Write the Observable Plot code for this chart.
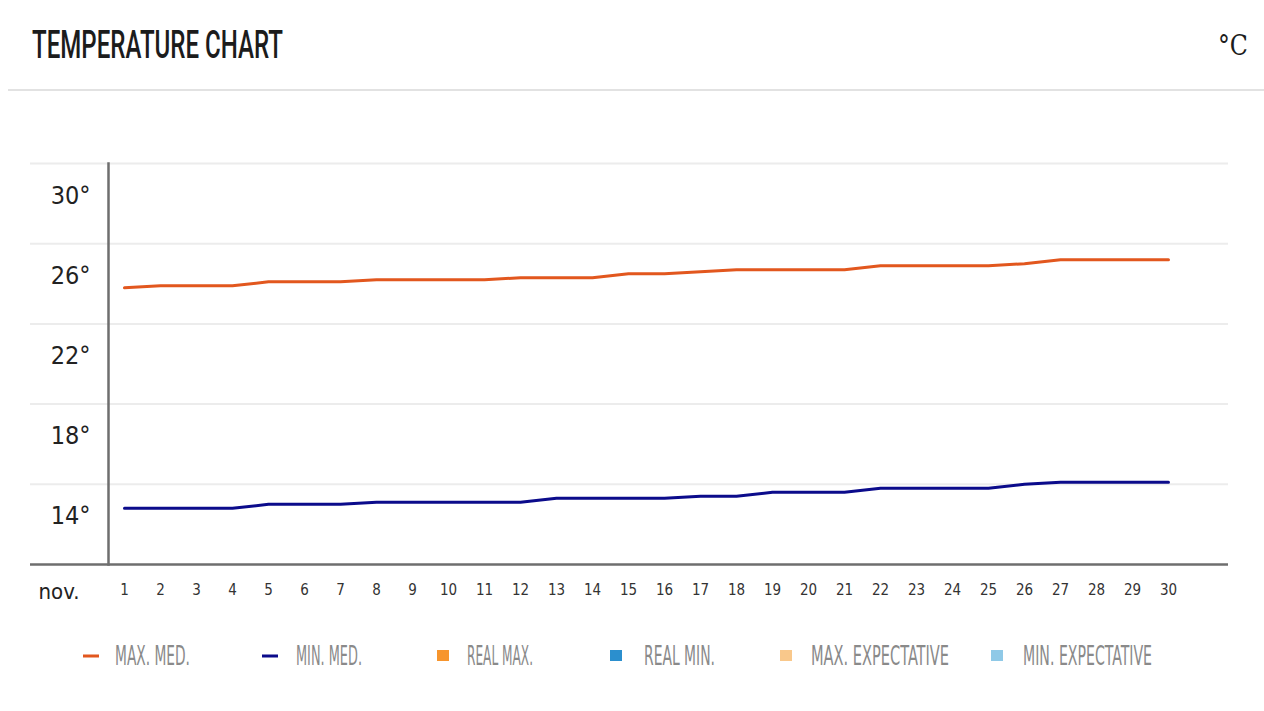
<!DOCTYPE html>
<html>
<head>
<meta charset="utf-8">
<script src="https://cdn.jsdelivr.net/npm/d3@7"></script>
<script src="https://cdn.jsdelivr.net/npm/@observablehq/plot@0.6"></script>
<style>
  html, body { margin: 0; padding: 0; background: #fff; }
  body { width: 1264px; height: 711px; overflow: hidden; position: relative; }
  #header { position: absolute; left: 0; top: 0; }
  #chart { position: absolute; left: 0; top: 100px; }
  #legend { position: absolute; left: 0; top: 630px; }
</style>
</head>
<body>
<svg id="header" width="1264" height="100"></svg>
<div id="chart"></div>
<svg id="legend" width="1264" height="50"></svg>
<script>
// ---- data ----
const days = [1,2,3,4,5,6,7,8,9,10,11,12,13,14,15,16,17,18,19,20,21,22,23,24,25,26,27,28,29,30];
const maxMed = [25.8,25.9,25.9,25.9,26.1,26.1,26.1,26.2,26.2,26.2,26.2,26.3,26.3,26.3,26.5,26.5,26.6,26.7,26.7,26.7,26.7,26.9,26.9,26.9,26.9,27.0,27.2,27.2,27.2,27.2];
const minMed = [14.8,14.8,14.8,14.8,15.0,15.0,15.0,15.1,15.1,15.1,15.1,15.1,15.3,15.3,15.3,15.3,15.4,15.4,15.6,15.6,15.6,15.8,15.8,15.8,15.8,16.0,16.1,16.1,16.1,16.1];
const yTicks = [14, 18, 22, 26, 30];
const gridLines = [16, 20, 24, 28, 32];
const monthLabel = "nov.";
const titleText = "TEMPERATURE CHART";
const unitText = "°C";
const legendLabels = ["MAX. MED.", "MIN. MED.", "REAL MAX.", "REAL MIN.", "MAX. EXPECTATIVE", "MIN. EXPECTATIVE"];
const legendKinds = ["line", "line", "square", "square", "square", "square"];
const legendColors = ["#e2571e", "#0b0b8b", "#f7952d", "#2b8fce", "#f9c88b", "#8fc9e7"];

const condensed = "'Liberation Sans Narrow', 'DejaVu Sans Condensed', 'Roboto', sans-serif";

// ---- header ----
const header = d3.select("#header");
header.append("text")
  .attr("x", 32).attr("y", 58)
  .attr("textLength", 251).attr("lengthAdjust", "spacingAndGlyphs")
  .style("font-family", "'Roboto', 'Liberation Sans', sans-serif")
  .style("font-weight", "500").style("font-size", "39px").style("fill", "#1c1c1c")
  .text(titleText);
header.append("text")
  .attr("x", 1218).attr("y", 55)
  .attr("textLength", 30).attr("lengthAdjust", "spacingAndGlyphs")
  .style("font-family", "'DejaVu Serif', serif")
  .style("font-size", "27px").style("fill", "#1c1c1c")
  .text(unitText);
header.append("rect")
  .attr("x", 8).attr("y", 89).attr("width", 1256).attr("height", 2)
  .style("fill", "#e2e2e2");

// ---- chart ----
const chart = Plot.plot({
  width: 1264,
  height: 520,
  marginTop: 63,
  marginBottom: 56,
  marginLeft: 108,
  marginRight: 36,
  style: { fontFamily: condensed, color: "#222", background: "transparent" },
  x: { type: "linear", domain: [0.556, 31.667], axis: null },
  y: { domain: [12, 32], axis: null },
  marks: [
    Plot.ruleY(gridLines, { stroke: "#ececec", strokeWidth: 2, insetLeft: -78 }),
    Plot.ruleY([12], { stroke: "#6e6e6e", strokeWidth: 2.5, insetLeft: -78 }),
    Plot.frame({ anchor: "left", stroke: "#6e6e6e", strokeWidth: 2.5 }),
    Plot.axisY(yTicks, {
      tickSize: 0, tickPadding: 18, tickFormat: d => d + "°",
      fontSize: 25, dy: -8, fill: "#222"
    }),
    Plot.axisX(days, {
      tickSize: 0, tickPadding: 20, fontSize: 15, fill: "#333"
    }),
    Plot.text([monthLabel], {
      frameAnchor: "bottom-left", text: d => d, dx: -70, dy: 27,
      textAnchor: "start", lineAnchor: "middle", fontSize: 22, fill: "#222", fontWeight: 500
    }),
    Plot.line(days, { x: days, y: maxMed, stroke: "#e2571e", strokeWidth: 3 }),
    Plot.line(days, { x: days, y: minMed, stroke: "#0b0b8b", strokeWidth: 3 })
  ]
});
document.getElementById("chart").appendChild(chart);

// ---- legend ----
const markerX = [83, 262, 437, 610, 780, 991];
const textX = [115, 296, 467, 644, 811, 1023];
const textW = [75, 66, 66, 71, 138, 129];
const legend = d3.select("#legend");
legendLabels.forEach((label, i) => {
  if (legendKinds[i] === "line") {
    legend.append("rect").attr("x", markerX[i]).attr("y", 24.5).attr("width", 16).attr("height", 3)
      .style("fill", legendColors[i]);
  } else {
    legend.append("rect").attr("x", markerX[i]).attr("y", 20).attr("width", 12).attr("height", 11)
      .style("fill", legendColors[i]);
  }
  legend.append("text")
    .attr("x", textX[i]).attr("y", 34.5)
    .attr("textLength", textW[i]).attr("lengthAdjust", "spacingAndGlyphs")
    .style("font-family", "'DejaVu Sans Condensed', 'Liberation Sans', sans-serif")
    .style("font-size", "27px").style("fill", "#8a8a8a")
    .text(label);
});
</script>
</body>
</html>
